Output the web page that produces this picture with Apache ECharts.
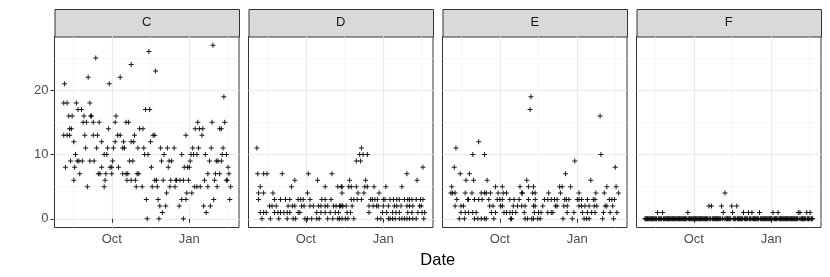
<!DOCTYPE html>
<html><head><meta charset="utf-8">
<script src="https://cdn.jsdelivr.net/npm/echarts@6/dist/echarts.min.js"></script>
<style>html,body{margin:0;padding:0;background:#fff}#c{width:830px;height:277px}</style>
</head><body><div id="c"></div>
<script>
// ---- data ----
// days counted from the first observed date (2012-08-04)
const startYear = 2012, startMonth = 8, startDay = 4;
const firstDay = 0, lastDay = 199;
const panelNames = ['C', 'D', 'E', 'F'];
const xTickDays = [58, 150];
const xTickLabels = ['Oct', 'Jan'];
const xMinorDays = [12, 104, 195];
const yTickValues = [0, 10, 20];
const yTickLabels = ['0', '10', '20'];
const yMinorValues = [5, 15, 25];
const yLow = 0, yHigh = 27;
const xTitle = 'Date';

// panel C: [day, value]
const pointsC = [
[1,18],[5,18],[16,18],[32,18],[2,21],[39,25],[81,24],[30,22],[68,22],[55,21],[102,26],[18,17],[22,17],[98,17],[103,17],
[7,16],[11,16],[25,16],[33,16],[34,16],[63,16],[24,15],[28,15],[36,15],[43,15],[62,15],[75,15],[78,15],
[8,14],[10,14],[54,14],[91,14],[95,14],[1,13],[5,13],[8,13],[26,13],[36,13],[41,13],[65,13],[68,13],[85,13],
[13,12],[46,12],[62,12],[72,12],[81,12],[84,12],[27,11],[40,11],[53,11],[60,11],[71,11],[73,11],[89,11],[96,11],
[15,10],[49,10],[52,10],[97,10],[101,10],[9,9],[17,9],[19,9],[23,9],[32,9],[37,9],[59,9],[79,9],[83,9],
[3,8],[14,8],[46,8],[56,8],[58,8],[66,8],[20,7],[42,7],[44,7],[51,7],[58,7],[71,7],[75,7],[77,7],[88,7],[90,7],
[13,6],[50,6],[76,6],[81,6],[86,6],[29,5],[49,5],[87,5],[94,5],[99,3],[100,0],
[178,27],[110,23],[191,19],[160,15],[177,15],[192,15],[157,14],[162,14],[166,14],[186,14],[188,14],
[107,13],[109,13],[146,13],[165,13],[104,12],[116,11],[124,11],[132,11],[154,11],[161,11],[176,11],[190,11],
[120,10],[141,10],[152,10],[155,10],[159,10],[169,10],[189,10],[194,10],
[117,9],[126,9],[129,9],[151,9],[174,9],[182,9],[184,9],[188,9],
[105,8],[125,8],[144,8],[148,8],[150,8],[196,8],[172,7],[181,7],[186,7],[197,7],
[109,6],[111,6],[119,6],[128,6],[134,6],[135,6],[139,6],[143,6],[149,6],[168,6],[180,6],[194,6],[195,6],
[106,5],[112,5],[127,5],[133,5],[156,5],[159,5],[163,5],[172,5],[183,5],[199,5],
[123,4],[147,4],[153,4],[113,3],[141,3],[146,3],[179,3],[198,3],
[115,2],[122,2],[138,2],[167,2],[175,2],[118,1],[170,1],[114,0],[143,0]
];

// panel D: [day, value]
const pointsD = [
[0,11],[124,11],[122,10],[126,10],[131,10],[118,9],[123,9],[197,8],
[1,7],[8,7],[12,7],[30,7],[61,7],[89,7],[178,7],
[45,6],[72,6],[110,6],[129,6],[190,6],
[4,5],[41,5],[81,5],[96,5],[100,5],[101,5],[109,5],[112,5],[118,5],[128,5],[131,5],[139,5],[153,5],[172,5],
[2,4],[8,4],[19,4],[60,4],[101,4],[120,4],[127,4],[145,4],
[2,3],[21,3],[28,3],[34,3],[39,3],[49,3],[52,3],[55,3],[63,3],[77,3],[81,3],[88,3],[112,3],[115,3],[119,3],[124,3],
[135,3],[137,3],[140,3],[143,3],[150,3],[152,3],[158,3],[162,3],[166,3],[169,3],[175,3],[179,3],[181,3],[184,3],[189,3],[194,3],[197,3],
[15,2],[18,2],[23,2],[37,2],[42,2],[45,2],[53,2],[56,2],[63,2],[67,2],[73,2],[76,2],[81,2],[84,2],[91,2],[94,2],[98,2],[101,2],[99,2],
[102,2],[106,2],[113,2],[133,2],[138,2],[142,2],[144,2],[150,2],[156,2],[163,2],[166,2],[171,2],[178,2],[181,2],[185,2],[193,2],[195,2],
[4,1],[8,1],[11,1],[21,1],[25,1],[28,1],[32,1],[36,1],[39,1],[49,1],[51,1],[71,1],[76,1],[81,1],[87,1],[93,1],[97,1],[107,1],[111,1],
[133,1],[149,1],[154,1],[161,1],[165,1],[169,1],[179,1],[184,1],[191,1],[196,1],[199,1],
[6,0],[16,0],[26,0],[36,0],[43,0],[46,0],[57,0],[60,0],[65,0],[71,0],[74,0],[84,0],[90,0],[96,0],[101,0],[98,0],[105,0],[108,0],[115,0],
[143,0],[147,0],[156,0],[158,0],[161,0],[164,0],[169,0],[172,0],[175,0],[178,0],[181,0],[185,0],[189,0],[198,0]
];

// panel E: [day, value]
const pointsE = [
[95,19],[94,17],[177,16],[33,12],[6,11],[26,10],[40,10],[178,10],[147,9],[4,8],[195,8],
[11,7],[22,7],[136,7],[18,6],[27,6],[43,6],[90,6],[166,6],
[1,5],[53,5],[61,5],[82,5],[92,5],[98,5],[129,5],[132,5],[142,5],[185,5],[196,5],
[0,4],[2,4],[5,4],[17,4],[25,4],[36,4],[40,4],[42,4],[47,4],[56,4],[62,4],[66,4],[84,4],[85,4],[97,4],[100,4],[116,4],[130,4],[152,4],[172,4],[182,4],[199,4],
[7,3],[20,3],[21,3],[28,3],[33,3],[37,3],[45,3],[55,3],[58,3],[61,3],[70,3],[75,3],[81,3],[92,3],[100,3],[111,3],[115,3],[119,3],[123,3],[126,3],
[135,3],[137,3],[140,3],[150,3],[152,3],[155,3],[162,3],[169,3],[171,3],[188,3],[191,3],[194,3],
[5,2],[12,2],[15,2],[46,2],[50,2],[59,2],[61,2],[74,2],[79,2],[84,2],[88,2],[98,2],[100,2],[109,2],[124,2],[126,2],[134,2],[138,2],
[152,2],[155,2],[159,2],[164,2],[170,2],[173,2],[183,2],[185,2],[192,2],
[12,1],[17,1],[21,1],[26,1],[30,1],[48,1],[53,1],[63,1],[66,1],[70,1],[73,1],[77,1],[87,1],[99,1],[104,1],[107,1],[115,1],[119,1],[121,1],
[138,1],[146,1],[156,1],[162,1],[167,1],[171,1],[181,1],[189,1],[197,1],
[10,0],[16,0],[28,0],[32,0],[36,0],[40,0],[42,0],[51,0],[71,0],[72,0],[88,0],[91,0],[96,0],[98,0],[103,0],[106,0],[133,0],[144,0],
[158,0],[161,0],[164,0],[180,0],[193,0]
];

// panel F: one value per day, day 0..199
const valuesF = [
0,0,0,0,0,0,0,0,0,0,0,0,0,0,0,1,0,0,0,0,
0,1,0,0,0,0,0,0,0,0,0,0,0,0,0,0,0,0,0,0,
0,0,0,0,0,0,0,0,0,0,0,1,0,0,0,0,0,0,0,0,
0,0,0,0,0,0,0,0,0,0,0,0,0,0,0,0,2,0,0,2,
0,0,0,0,0,0,0,0,0,0,0,2,0,1,0,4,0,0,0,0,
0,0,0,2,1,0,0,0,0,2,0,0,0,0,0,0,0,1,0,0,
0,0,0,1,0,0,0,1,0,0,0,0,0,0,0,0,1,0,0,0,
0,0,0,0,0,0,0,0,0,0,0,0,1,0,0,0,0,0,1,0,
0,0,0,0,0,0,0,0,0,0,0,0,0,0,0,0,0,0,0,0,
0,0,1,0,1,0,0,0,0,0,0,0,1,0,0,0,1,0,0,0
];

// ---- chart ----
const DAY = 86400000;
const t0 = Date.UTC(startYear, startMonth - 1, startDay);
const ts = d => t0 + d * DAY;
const spanX = lastDay - firstDay, padX = spanX * 0.05;
const padY = (yHigh - yLow) * 0.05;
const xMin = ts(firstDay - padX), xMax = ts(lastDay + padX);
const yMin = yLow - padY, yMax = yHigh + padY;

const panelData = [
  pointsC.map(p => [ts(p[0]), p[1]]),
  pointsD.map(p => [ts(p[0]), p[1]]),
  pointsE.map(p => [ts(p[0]), p[1]]),
  valuesF.map((v, i) => [ts(firstDay + i), v])
];

const lefts = [54.5, 248.5, 442.5, 636.5];
const W = 184.5, TOP = 36.5, H = 191;
const stripTop = 9, stripH = 27.5;
const FONT = 'Liberation Sans, Arial, sans-serif';
const plus = 'path://M-0.2,-1H0.2V-0.2H1V0.2H0.2V1H-0.2V0.2H-1V-0.2H-0.2Z';

const grids = [], xAxes = [], yAxes = [], series = [], graphics = [];
const xTickTs = xTickDays.map(ts);
const labelForX = v => { const i = xTickTs.indexOf(v); return i >= 0 ? xTickLabels[i] : ''; };

panelNames.forEach((name, g) => {
  grids.push({ left: lefts[g], top: TOP, width: W, height: H, show: true,
    borderColor: '#333333', borderWidth: 1, backgroundColor: '#ffffff', containLabel: false });
  const base = { gridIndex: g, type: 'value', min: xMin, max: xMax, axisLine: { show: false } };
  // major grid
  xAxes.push(Object.assign({}, base, { position: 'bottom',
    axisLabel: { show: false, customValues: xTickTs }, axisTick: { show: false, customValues: xTickTs },
    splitLine: { show: true, lineStyle: { color: '#ebebeb', width: 1.1 } } }));
  // minor grid
  xAxes.push(Object.assign({}, base, { position: 'bottom',
    axisLabel: { show: false, customValues: xMinorDays.map(ts) }, axisTick: { show: false, customValues: xMinorDays.map(ts) },
    splitLine: { show: true, lineStyle: { color: '#f2f2f2', width: 0.6 } } }));
  // labels + ticks
  xAxes.push(Object.assign({}, base, { position: 'bottom',
    axisLabel: { show: true, customValues: xTickTs, formatter: labelForX, color: '#4d4d4d',
      fontSize: 13, fontFamily: FONT, margin: 5 },
    axisTick: { show: true, customValues: xTickTs, length: 4, lineStyle: { color: '#333333', width: 1 } },
    splitLine: { show: false } }));

  const ybase = { gridIndex: g, type: 'value', min: yMin, max: yMax, axisLine: { show: false } };
  yAxes.push(Object.assign({}, ybase, { position: 'left',
    axisLabel: { show: false, customValues: yTickValues }, axisTick: { show: false, customValues: yTickValues },
    splitLine: { show: true, lineStyle: { color: '#ebebeb', width: 1.1 } } }));
  yAxes.push(Object.assign({}, ybase, { position: 'left',
    axisLabel: { show: false, customValues: yMinorValues }, axisTick: { show: false, customValues: yMinorValues },
    splitLine: { show: true, lineStyle: { color: '#f2f2f2', width: 0.6 } } }));
  yAxes.push(Object.assign({}, ybase, { position: 'left',
    axisLabel: { show: g === 0, customValues: yTickValues,
      formatter: v => yTickLabels[yTickValues.indexOf(v)] || '',
      color: '#4d4d4d', fontSize: 13, fontFamily: FONT, margin: 6 },
    axisTick: { show: g === 0, customValues: yTickValues, length: 4, lineStyle: { color: '#333333', width: 1 } },
    splitLine: { show: false } }));

  series.push({ type: 'scatter', name: name, xAxisIndex: g * 3 + 2, yAxisIndex: g * 3 + 2,
    data: panelData[g], symbol: plus, symbolSize: 5, silent: true, animation: false,
    itemStyle: { color: '#000000', opacity: 0.9 }, z: 5 });

  graphics.push({ type: 'rect', left: lefts[g], top: stripTop, silent: true,
    shape: { width: W, height: stripH },
    style: { fill: '#d9d9d9', stroke: '#333333', lineWidth: 1 } });
  graphics.push({ type: 'text', x: lefts[g] + W / 2, y: stripTop + stripH / 2, silent: true,
    style: { text: name, fill: '#1a1a1a', font: '13px ' + FONT, align: 'center', verticalAlign: 'middle' } });
});

graphics.push({ type: 'text', x: lefts[0] + (lefts[3] + W - lefts[0]) / 2, y: 260, silent: true,
  style: { text: xTitle, fill: '#000000', font: '16.5px ' + FONT, align: 'center', verticalAlign: 'middle' } });

const chart = echarts.init(document.getElementById('c'), null, { renderer: 'canvas' });
chart.setOption({
  animation: false,
  backgroundColor: '#ffffff',
  grid: grids, xAxis: xAxes, yAxis: yAxes, series: series, graphic: graphics
});
</script>
</body></html>
